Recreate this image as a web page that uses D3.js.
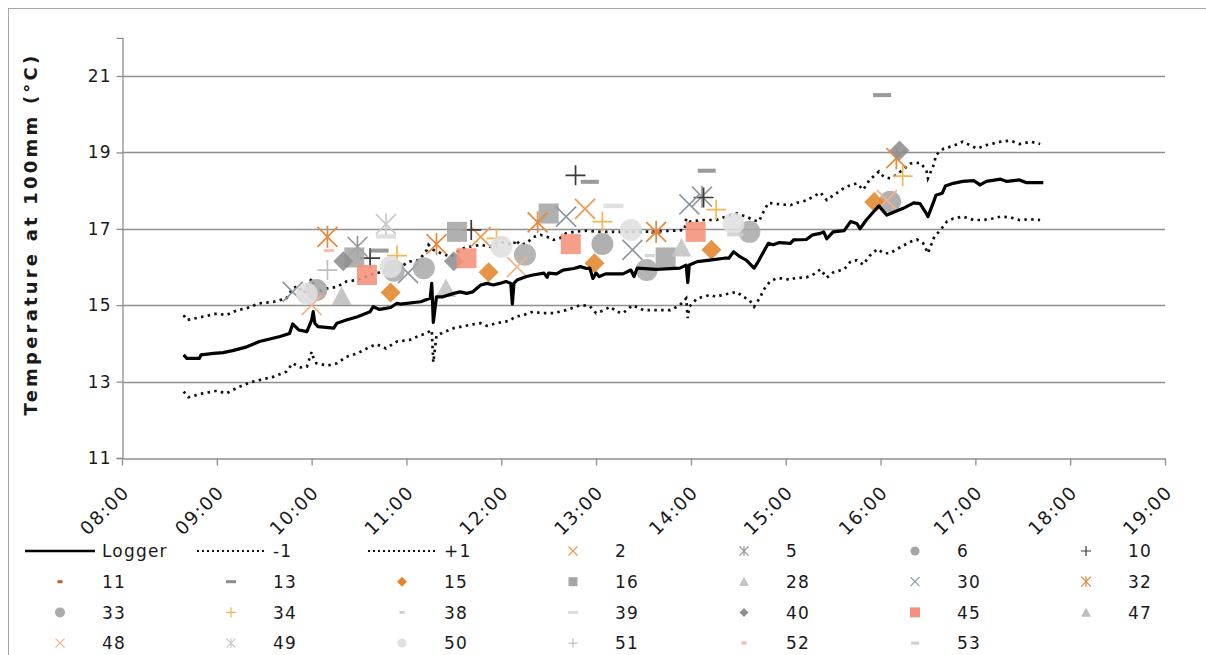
<!DOCTYPE html>
<html>
<head>
<meta charset="utf-8">
<script src="https://cdn.jsdelivr.net/npm/d3@7"></script>
<style>
  html, body { margin: 0; padding: 0; background: #fff; }
  svg { display: block; font-family: "DejaVu Sans", Verdana, sans-serif; }
</style>
</head>
<body>
<svg id="chart" width="1206" height="655"></svg>
<script>
// Soil temperature at 100 mm: logger trace, ±1 °C band and hand-held probe readings

const loggerTimes = ["08:39","08:41","08:49","08:50","08:58","09:04","09:10","09:19","09:27","09:40","09:46","09:48","09:52","09:57","10:00","10:01","10:02","10:04","10:14","10:16","10:22","10:29","10:37","10:39","10:43","10:50","10:54","10:56","11:09","11:15","11:16","11:17","11:19","11:23","11:30","11:34","11:38","11:42","11:47","11:51","11:55","11:59","12:03","12:06","12:07","12:08","12:10","12:16","12:20","12:27","12:29","12:30","12:35","12:39","12:46","12:50","12:54","12:56","12:58","13:00","13:02","13:06","13:17","13:22","13:24","13:26","13:38","13:53","13:57","13:58","13:59","14:04","14:12","14:21","14:24","14:27","14:31","14:35","14:40","14:42","14:46","14:49","14:52","14:56","15:03","15:05","15:13","15:17","15:22","15:24","15:26","15:30","15:37","15:41","15:45","15:47","15:51","15:55","15:59","16:02","16:04","16:14","16:21","16:25","16:29","16:30","16:34","16:35","16:39","16:41","16:46","16:52","16:59","17:03","17:07","17:16","17:20","17:28","17:32","17:43"];
const loggerTemps = [13.70,13.61,13.61,13.70,13.74,13.76,13.81,13.91,14.05,14.18,14.26,14.51,14.35,14.31,14.61,14.83,14.53,14.44,14.40,14.53,14.61,14.70,14.83,14.96,14.89,14.94,15.05,15.03,15.09,15.18,15.57,14.55,15.22,15.22,15.31,15.35,15.31,15.35,15.53,15.57,15.53,15.57,15.62,15.57,15.03,15.57,15.66,15.75,15.79,15.84,15.73,15.84,15.82,15.92,15.96,16.01,15.96,15.97,15.70,15.84,15.75,15.82,15.82,15.92,15.75,15.97,15.94,15.97,16.05,15.59,16.05,16.14,16.18,16.23,16.23,16.40,16.27,16.18,15.97,16.10,16.40,16.62,16.58,16.64,16.62,16.71,16.72,16.84,16.88,16.92,16.74,16.92,16.95,17.19,17.14,17.00,17.23,17.42,17.60,17.45,17.36,17.53,17.68,17.66,17.40,17.32,17.75,17.88,17.93,18.12,18.19,18.24,18.26,18.15,18.24,18.30,18.24,18.28,18.21,18.21];

const upperTimes = ["08:39","08:41","08:49","09:00","09:06","09:13","09:19","09:27","09:36","09:44","09:48","09:51","09:55","10:00","10:03","10:10","10:16","10:22","10:29","10:37","10:45","10:58","11:02","11:08","11:13","11:14","11:17","11:23","11:28","11:34","11:38","11:47","11:53","11:59","12:08","12:09","12:12","12:16","12:20","12:25","12:29","12:33","12:37","12:41","12:46","12:54","13:02","13:09","13:28","13:49","13:56","13:57","13:59","14:08","14:16","14:25","14:29","14:35","14:40","14:43","14:46","14:49","14:54","15:03","15:05","15:13","15:22","15:26","15:32","15:38","15:45","15:49","15:53","15:59","16:02","16:06","16:10","16:19","16:25","16:29","16:30","16:34","16:35","16:40","16:46","16:52","17:01","17:07","17:16","17:22","17:28","17:35","17:41"];
const upperTemps = [14.74,14.61,14.68,14.78,14.74,14.87,14.92,15.05,15.09,15.18,15.44,15.50,15.31,15.70,15.35,15.44,15.48,15.62,15.66,15.79,15.88,16.05,16.14,16.18,16.45,16.58,16.45,16.34,16.27,16.45,16.52,16.58,16.53,16.66,16.58,16.71,16.58,16.62,16.78,16.84,16.79,16.71,16.75,16.88,16.92,16.95,16.92,16.92,16.92,16.95,16.97,17.27,17.19,17.23,17.23,17.36,17.40,17.32,17.22,17.19,17.45,17.68,17.65,17.62,17.66,17.74,17.95,17.75,17.93,18.10,18.19,18.02,18.28,18.50,18.36,18.32,18.41,18.71,18.73,18.54,18.32,18.71,18.93,19.10,19.17,19.28,19.10,19.19,19.28,19.31,19.22,19.28,19.22];

const lowerTimes = ["08:39","08:42","08:51","09:00","09:06","09:13","09:21","09:27","09:36","09:44","09:48","09:53","09:57","10:00","10:01","10:03","10:10","10:16","10:22","10:29","10:37","10:41","10:47","10:54","11:02","11:09","11:12","11:16","11:17","11:19","11:24","11:30","11:36","11:42","11:47","11:51","11:57","12:05","12:09","12:14","12:20","12:26","12:33","12:41","12:50","12:56","13:00","13:05","13:09","13:13","13:17","13:23","13:30","13:38","13:47","13:53","13:57","13:58","13:59","14:04","14:08","14:12","14:16","14:20","14:25","14:29","14:33","14:37","14:40","14:44","14:46","14:50","14:54","14:59","15:03","15:05","15:13","15:17","15:22","15:26","15:30","15:37","15:41","15:45","15:49","15:53","15:58","16:02","16:06","16:13","16:19","16:23","16:27","16:29","16:30","16:34","16:38","16:42","16:46","16:52","16:59","17:05","17:11","17:16","17:22","17:28","17:35","17:41"];
const lowerTemps = [12.74,12.59,12.69,12.76,12.69,12.84,12.98,13.04,13.13,13.26,13.48,13.37,13.39,13.78,13.64,13.48,13.42,13.48,13.65,13.74,13.91,13.98,13.87,14.05,14.09,14.22,14.25,14.35,13.50,14.20,14.30,14.40,14.45,14.50,14.53,14.46,14.53,14.59,14.70,14.74,14.83,14.79,14.79,14.87,15.00,14.98,14.79,14.87,14.96,14.83,14.79,15.00,14.87,14.87,14.87,15.00,15.18,14.66,14.96,15.18,15.22,15.27,15.22,15.27,15.31,15.35,15.22,15.14,14.96,15.22,15.40,15.62,15.70,15.70,15.66,15.70,15.73,15.79,15.94,15.72,15.86,15.94,16.14,16.18,16.06,16.29,16.47,16.36,16.36,16.53,16.66,16.72,16.62,16.45,16.36,16.79,16.97,17.19,17.27,17.32,17.23,17.23,17.27,17.32,17.30,17.23,17.25,17.23];

// Probe readings: [probe, time, temperature]
const probeIds = ["2","5","6","10","11","13","15","16","28","30","32","33","34","38","39","40","45","47","48","49","50","51","52","53"];
const readings = [
  ["2","11:47",16.79],["2","12:53",17.52],
  ["5","10:29",16.53],["5","14:07",17.84],
  ["6","10:03",15.40],["6","13:04",16.60],["6","16:06",17.71],
  ["10","10:37",16.23],["10","11:41",16.97],["10","12:47",18.40],["10","14:08",17.82],
  ["11","13:38",16.90],
  ["13","10:43",16.43],["13","12:56",18.23],["13","14:10",18.52],["13","16:01",20.50],
  ["15","10:50",15.33],["15","11:52",15.86],["15","12:59",16.10],["15","14:13",16.45],["15","15:56",17.70],
  ["16","10:27",16.25],["16","11:32",16.92],["16","12:30",17.40],["16","13:44",16.25],
  ["28","11:25",15.44],["28","13:54",16.50],
  ["30","09:48",15.35],["30","11:01",15.84],["30","12:41",17.32],["30","13:23",16.45],["30","13:59",17.64],
  ["32","10:10",16.79],["32","11:19",16.60],["32","12:23",17.17],["32","13:38",16.92],["32","16:10",18.85],
  ["33","10:52",15.90],["33","11:11",15.97],["33","12:15",16.32],["33","13:32",15.92],["33","14:37",16.92],
  ["34","10:54",16.30],["34","11:57",16.75],["34","13:04",17.19],["34","14:16",17.50],["34","16:14",18.38],
  ["38","13:34",16.30],
  ["39","10:47",16.80],["39","13:11",17.60],
  ["40","10:20",16.15],["40","11:30",16.15],["40","16:12",19.05],
  ["45","10:35",15.79],["45","11:38",16.23],["45","12:44",16.60],["45","14:03",16.92],
  ["47","10:19",15.23],
  ["48","10:00",15.00],["48","12:10",16.00],["48","16:04",17.75],
  ["49","10:47",17.12],
  ["50","09:57",15.30],["50","10:50",16.00],["50","12:00",16.53],["50","13:22",16.97],["50","14:27",17.14],
  ["51","10:10",15.92],
  ["52","10:11",16.43],
  ["53","14:28",16.85]
];

const yTicks = [11, 13, 15, 17, 19, 21];
const xTickLabels = ["08:00","09:00","10:00","11:00","12:00","13:00","14:00","15:00","16:00","17:00","18:00","19:00"];

// Marker look for each probe: shape, colour, size in plot and legend
const markerStyle = {
  "2":  {shape:"x",        color:"#EE9A50", r:10, lr:4.5},
  "5":  {shape:"star",     color:"#9A9A9A", r:10, lr:4.5},
  "6":  {shape:"circle",   color:"#A5A5A5", r:11, lr:4.5},
  "10": {shape:"plus",     color:"#3A3A3A", r:10, lr:5},
  "11": {shape:"dash",     color:"#C65A1E", r:5,  lr:2.5},
  "13": {shape:"dash",     color:"#8C8C8C", r:9,  lr:5},
  "15": {shape:"diamond",  color:"#E2862A", r:10, lr:5},
  "16": {shape:"square",   color:"#A5A5A5", r:10, lr:4.5},
  "28": {shape:"triangle", color:"#C3C3C3", r:10, lr:5},
  "30": {shape:"x",        color:"#8E98A3", r:10, lr:4.5},
  "32": {shape:"star",     color:"#E58A3C", r:10, lr:5},
  "33": {shape:"circle",   color:"#ABABAB", r:11, lr:5},
  "34": {shape:"plus",     color:"#F3B650", r:10, lr:5},
  "38": {shape:"dash",     color:"#D0D0D0", r:5,  lr:2.5},
  "39": {shape:"dash",     color:"#DCDCDC", r:10, lr:5},
  "40": {shape:"diamond",  color:"#8E8E8E", r:10, lr:4.5},
  "45": {shape:"square",   color:"#F4917A", r:10, lr:5},
  "47": {shape:"triangle", color:"#BEBEBE", r:10, lr:5},
  "48": {shape:"x",        color:"#F6B08A", r:10, lr:4.5},
  "49": {shape:"star",     color:"#CACACA", r:10, lr:4.5},
  "50": {shape:"circle",   color:"#DFDFDF", r:11, lr:4.5},
  "51": {shape:"plus",     color:"#BFBFBF", r:10, lr:4.5},
  "52": {shape:"dash",     color:"#F7B4A6", r:5,  lr:2.5},
  "53": {shape:"dash",     color:"#CFCFCF", r:8,  lr:4}
};

// Symbol types whose size argument is the half-width in pixels
const shapes = {
  circle:   {draw(c, r) { c.moveTo(r, 0); c.arc(0, 0, r, 0, 2 * Math.PI); c.closePath(); }},
  square:   {draw(c, r) { c.rect(-r, -r, 2 * r, 2 * r); }},
  diamond:  {draw(c, r) { c.moveTo(0, -r); c.lineTo(r, 0); c.lineTo(0, r); c.lineTo(-r, 0); c.closePath(); }},
  triangle: {draw(c, r) { c.moveTo(0, -r); c.lineTo(r, r * 0.85); c.lineTo(-r, r * 0.85); c.closePath(); }},
  dash:     {draw(c, r) { const h = Math.max(3, r * 0.45) / 2; c.rect(-r, -h, 2 * r, 2 * h); }},
  x:        {draw(c, r) { c.moveTo(-r, -r); c.lineTo(r, r); c.moveTo(-r, r); c.lineTo(r, -r); }},
  plus:     {draw(c, r) { c.moveTo(-r, 0); c.lineTo(r, 0); c.moveTo(0, -r); c.lineTo(0, r); }},
  star:     {draw(c, r) { c.moveTo(-r, -r); c.lineTo(r, r); c.moveTo(-r, r); c.lineTo(r, -r); c.moveTo(0, -r * 1.1); c.lineTo(0, r * 1.1); }}
};
const stroked = new Set(["x", "plus", "star"]);

const parseTime = d3.timeParse("%H:%M");
const svg = d3.select("#chart");
const textFont = "'DejaVu Sans', Verdana, sans-serif";

// frame
svg.append("rect").attr("x", 8.5).attr("y", 8.5).attr("width", 1220).attr("height", 680)
  .attr("fill", "#fff").attr("stroke", "#a6a6a6").attr("stroke-width", 1);

const x = d3.scaleTime()
  .domain([parseTime(xTickLabels[0]), parseTime(xTickLabels[xTickLabels.length - 1])])
  .range([122, 1165]);
const y = d3.scaleLinear().domain([11, 22]).range([458, 37.8]);

const gridColor = "#8f8f8f";

// horizontal gridlines
svg.append("g").selectAll("line").data(yTicks.slice(1)).join("line")
  .attr("x1", 122).attr("x2", 1165)
  .attr("y1", d => Math.round(y(d)) + 0.5).attr("y2", d => Math.round(y(d)) + 0.5)
  .attr("stroke", gridColor).attr("stroke-width", 1.3);

// y axis
const yAxis = svg.append("g").attr("transform", "translate(122.5,0)")
  .call(d3.axisLeft(y).tickValues(yTicks).tickSize(6).tickPadding(5).tickFormat(d3.format("d")));
yAxis.select(".domain").attr("stroke", gridColor).attr("stroke-width", 1.3);
yAxis.selectAll(".tick line").attr("stroke", gridColor).attr("stroke-width", 1.3);
yAxis.selectAll(".tick text").attr("font-size", 17).attr("fill", "#1a1a1a")
  .attr("letter-spacing", 1).attr("font-family", textFont);

// x axis
const xAxis = svg.append("g").attr("transform", "translate(0,458.5)")
  .call(d3.axisBottom(x).tickValues(xTickLabels.map(parseTime)).tickSize(7)
    .tickFormat(d3.timeFormat("%H:%M")).tickSizeOuter(0));
xAxis.select(".domain").attr("stroke", gridColor).attr("stroke-width", 1.3);
xAxis.selectAll(".tick line").attr("stroke", gridColor).attr("stroke-width", 1.3);
xAxis.selectAll(".tick text")
  .attr("font-size", 18.5).attr("fill", "#1a1a1a").attr("letter-spacing", 1.4)
  .attr("font-family", textFont)
  .attr("text-anchor", "end").attr("dy", null)
  .attr("transform", "translate(8,35) rotate(-45)")
  .attr("y", 0).attr("x", 0);

// y axis title
svg.append("text")
  .attr("transform", "translate(37,234) rotate(-90)")
  .attr("text-anchor", "middle")
  .attr("font-size", 18).attr("font-weight", "bold").attr("fill", "#1a1a1a")
  .attr("letter-spacing", 3.2)
  .text("Temperature at 100mm (°C)");

// logger trace and ±1 °C band
const line = d3.line().x(d => x(parseTime(d[0]))).y(d => y(d[1]));
const zipPts = (ts, vs) => ts.map((t, i) => [t, vs[i]]);

svg.append("path").datum(zipPts(lowerTimes, lowerTemps)).attr("d", line)
  .attr("fill", "none").attr("stroke", "#111").attr("stroke-width", 2.7)
  .attr("stroke-dasharray", "2.5,4.3");
svg.append("path").datum(zipPts(upperTimes, upperTemps)).attr("d", line)
  .attr("fill", "none").attr("stroke", "#111").attr("stroke-width", 2.7)
  .attr("stroke-dasharray", "2.5,4.3");

// probe markers, drawn in probe order
const markerPath = (shape, r) => d3.symbol().type(shapes[shape]).size(r)();
const markers = svg.append("g");
probeIds.forEach(id => {
  const st = markerStyle[id];
  const pts = readings.filter(r => r[0] === id);
  markers.selectAll(null).data(pts).join("path")
    .attr("transform", d => `translate(${x(parseTime(d[1]))},${y(d[2])})`)
    .attr("d", markerPath(st.shape, st.r))
    .attr("fill", stroked.has(st.shape) ? "none" : st.color)
    .attr("fill-opacity", 0.88)
    .attr("stroke", stroked.has(st.shape) ? st.color : "none")
    .attr("stroke-width", 1.7);
});

svg.append("path").datum(zipPts(loggerTimes, loggerTemps)).attr("d", line)
  .attr("fill", "none").attr("stroke", "#000").attr("stroke-width", 3.2)
  .attr("stroke-linejoin", "round");

// legend: 7 columns, filled row by row
const legendItems = [
  {label:"Logger", kind:"solid"},
  {label:"-1", kind:"dotted"},
  {label:"+1", kind:"dotted"},
  ...probeIds.map(id => ({label:id, kind:"marker", id}))
];
const legend = svg.append("g").attr("font-size", 17).attr("fill", "#1a1a1a")
  .attr("letter-spacing", 1.2);
legendItems.forEach((item, i) => {
  const col = i % 7, row = Math.floor(i / 7);
  const cx = 60 + col * 171, cy = 551 + row * 30.7;
  const g = legend.append("g").attr("transform", `translate(${cx},${cy})`);
  if (item.kind === "solid") {
    g.append("line").attr("x1", -35).attr("x2", 35).attr("stroke", "#000").attr("stroke-width", 2.6);
  } else if (item.kind === "dotted") {
    g.append("line").attr("x1", -34).attr("x2", 35).attr("stroke", "#111").attr("stroke-width", 2)
      .attr("stroke-dasharray", "2,3");
  } else {
    const st = markerStyle[item.id];
    g.append("path").attr("d", markerPath(st.shape, st.lr))
      .attr("fill", stroked.has(st.shape) ? "none" : st.color)
      .attr("stroke", stroked.has(st.shape) ? st.color : "none")
      .attr("stroke-width", 1.2);
  }
  g.append("text").attr("x", 42).attr("dy", "0.36em").text(item.label);
});
</script>
</body>
</html>
